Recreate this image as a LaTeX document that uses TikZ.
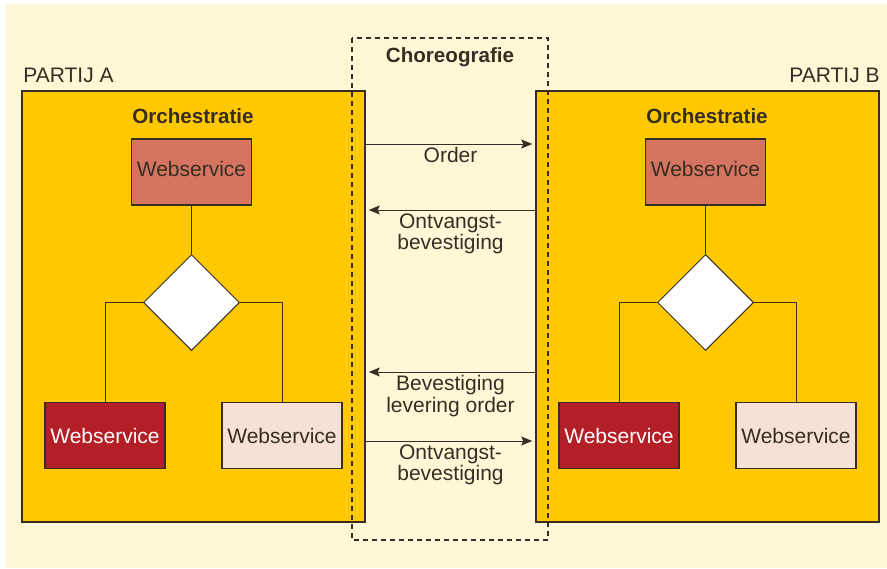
\documentclass[tikz,border=0pt]{standalone}
\usepackage{fontspec}
\setmainfont{Liberation Sans}
\usetikzlibrary{shapes.geometric, arrows.meta}

\definecolor{cream}{RGB}{255,248,215}
\definecolor{gold}{RGB}{255,200,0}
\definecolor{salmon}{RGB}{213,117,97}
\definecolor{wine}{RGB}{180,30,38}
\definecolor{blush}{RGB}{247,225,213}
\definecolor{ink}{RGB}{55,45,35}

\begin{document}
\begin{tikzpicture}[x=0.5pt, y=-0.5pt,
    font=\fontsize{10.5}{9.6}\selectfont,
    party/.style={draw=ink, line width=0.75pt, fill=gold, minimum width=171.5pt, minimum height=215.5pt, inner sep=0pt},
    ws/.style={draw=ink, line width=0.75pt, minimum width=60pt, minimum height=33pt, inner sep=0pt, text=ink},
    choice/.style={diamond, draw=ink, line width=0.5pt, fill=white, minimum width=48pt, minimum height=48pt, inner sep=0pt},
    link/.style={draw=ink, line width=0.5pt},
    msg/.style={link, shorten >=1.5pt, -{Stealth[length=5.5pt, width=4.5pt, inset=1pt]}},
    msgtext/.style={below, inner sep=1.5pt, align=center, text=ink},
    title/.style={font=\fontsize{10.3}{12}\bfseries, text=ink, inner sep=0pt}]
    % Page in pixel units (887 x 568), y grows downwards
    \useasboundingbox (0,0) rectangle (887,568);
    \fill[cream] (6,4) rectangle (887,568);

    % The two parties, each with its own orchestration
    \foreach \p/\dx in {A/0, B/514} {
        \node[party] (party\p) at (193.5+\dx,306.5) {};
        \node[title] (orch\p) at (193+\dx,116) {Orchestratie};
        \node[ws, fill=salmon, text depth=3pt] (wsTop\p) at (191.5+\dx,172) {Webservice};
        \node[choice] (choice\p) at (191.5+\dx,302.5) {};
        \node[ws, fill=wine, text=white] (wsLeft\p) at (105+\dx,435.5) {Webservice};
        \node[ws, fill=blush] (wsRight\p) at (282+\dx,435.5) {Webservice};
        \draw[link] (wsTop\p) -- (choice\p);
        \draw[link] (choice\p.west) -| (wsLeft\p);
        \draw[link] (choice\p.east) -| (wsRight\p);
    }
    \node[anchor=west, inner sep=0pt, text=ink] (nameA) at (23,75) {PARTIJ A};
    \node[anchor=east, inner sep=0pt, text=ink] (nameB) at (880,75) {PARTIJ B};

    % Choreography between the parties
    \draw[ink, line width=0.6pt, dash pattern=on 2.5pt off 2pt] (352,38) rectangle (548,540);
    \node[title] (choreo) at (450,57) {Choreografie};

    \draw[msg] (partyA.east |- 0,144) -- (partyB.west |- 0,144) node[msgtext, midway] {Order};
    \draw[msg] (partyB.west |- 0,210) -- (partyA.east |- 0,210) node[msgtext, midway] {Ontvangst-\\bevestiging};
    \draw[msg] (partyB.west |- 0,372) -- (partyA.east |- 0,372) node[msgtext, midway] {Bevestiging\\levering order};
    \draw[msg] (partyA.east |- 0,441) -- (partyB.west |- 0,441) node[msgtext, midway] {Ontvangst-\\bevestiging};
\end{tikzpicture}
\end{document}
